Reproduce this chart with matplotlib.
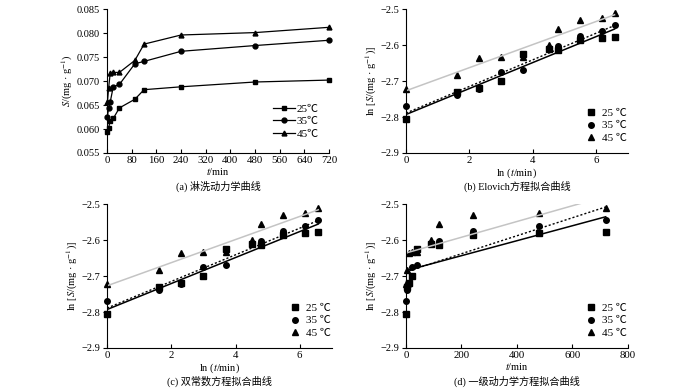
import numpy as np
import matplotlib.pyplot as plt

plt.rcParams['font.family'] = ['Liberation Serif', 'Noto Sans CJK SC']
plt.rcParams['mathtext.fontset'] = 'stix'
plt.rcParams['font.size'] = 7.5

# data
t = np.array([1, 5, 10, 20, 40, 90, 120, 240, 480, 720])
ln_t = np.log(t)
temps = ['25', '35', '45']
markers = ['s', 'o', '^']

# (a) S vs t
S25 = [0.0594, 0.0603, 0.0616, 0.0622, 0.0644, 0.0662, 0.0682, 0.0688, 0.0698, 0.0702]
S35 = [0.0626, 0.0644, 0.0656, 0.0688, 0.0693, 0.0736, 0.0741, 0.0762, 0.0774, 0.0785]
S45 = [0.0656, 0.0686, 0.0716, 0.0718, 0.0718, 0.0743, 0.0777, 0.0796, 0.0801, 0.0812]

# ln S used in (b)-(d)
lnS25 = [-2.805, -2.730, -2.720, -2.700, -2.625, -2.610, -2.613, -2.587, -2.580, -2.577]
lnS35 = [-2.770, -2.740, -2.722, -2.675, -2.670, -2.610, -2.603, -2.575, -2.560, -2.545]
lnS45 = [-2.723, -2.682, -2.635, -2.633, -2.633, -2.600, -2.556, -2.531, -2.525, -2.510]

# fitted lines (intercept, slope)
elovich_b = [-2.793, -2.789, -2.727]
elovich_k = [0.0361, 0.0370, 0.0321]
first_b = [-2.685, -2.688, -2.636]
first_k = [0.000208, 0.000250, 0.000219]
fit_styles = [dict(color='black', ls='-', lw=1.1),
              dict(color='black', ls=(0, (1.5, 1.5)), lw=1.0),
              dict(color='#c4c4c4', ls='-', lw=1.1)]

fig = plt.figure(figsize=(7, 3.9), dpi=100)
ax_a = fig.add_axes([0.153, 0.6077, 0.317, 0.369])
ax_b = fig.add_axes([0.580, 0.6077, 0.317, 0.369])
ax_c = fig.add_axes([0.153, 0.1077, 0.321, 0.369])
ax_d = fig.add_axes([0.580, 0.1077, 0.317, 0.369])


def style(ax):
    for s in ['top', 'right']:
        ax.spines[s].set_visible(False)
    ax.tick_params(axis='x', direction='in', length=3, pad=2, labelsize=7.8)
    ax.tick_params(axis='y', direction='out', length=3, pad=2, labelsize=7.5)


def caption(ax, s):
    ax.text(0.5, -0.23, s, transform=ax.transAxes, ha='center', va='center', fontsize=7.3)


# (a)
for S, m, lab in zip([S25, S35, S45], markers, temps):
    ax_a.plot(t, S, color='black', lw=0.9, marker=m, ms=3.5, clip_on=False,
              label=lab + '℃')
ax_a.set_xlim(0, 720)
ax_a.set_ylim(0.055, 0.085)
ax_a.set_xticks(np.arange(0, 721, 80))
ax_a.set_yticks(np.arange(0.055, 0.0851, 0.005))
ax_a.yaxis.set_major_formatter(plt.FormatStrFormatter('%.3f'))
ax_a.set_xlabel('$t$/min', labelpad=1)
ax_a.set_ylabel('$S$/(mg · g$^{-1}$)', labelpad=1)
ax_a.legend(loc='lower right', bbox_to_anchor=(1.0, 0.03), frameon=False,
            handlelength=1.9, handletextpad=0.2, labelspacing=0.25, fontsize=8)
style(ax_a)
caption(ax_a, '(a) 淋洗动力学曲线')

# (b), (c) ln S vs ln t ; (d) ln S vs t
panels = [(ax_b, ln_t, elovich_b, elovich_k, '(b) Elovich方程拟合曲线', 'ln ($t$/min)'),
          (ax_c, ln_t, elovich_b, elovich_k, '(c) 双常数方程拟合曲线', 'ln ($t$/min)'),
          (ax_d, t, first_b, first_k, '(d) 一级动力学方程拟合曲线', '$t$/min')]
for ax, x, bs, ks, cap, xl in panels:
    for y, m, lab in zip([lnS25, lnS35, lnS45], markers, temps):
        ax.plot(x, y, ls='none', marker=m, ms=4, color='black', clip_on=False,
                label=lab + ' ℃')
    xx = np.array([x[0] * 0, x[-1]])
    for b, k, st in zip(bs, ks, fit_styles):
        ax.plot(xx, b + k * xx, **st)
    ax.set_ylim(-2.9, -2.5)
    ax.set_yticks([-2.9, -2.8, -2.7, -2.6, -2.5])
    ax.yaxis.set_major_formatter(plt.FuncFormatter(lambda v, p: ('%.1f' % v).replace('-', '−')))
    ax.set_ylabel('ln [$S$/(mg · g$^{-1}$)]', labelpad=1)
    ax.set_xlabel(xl, labelpad=1)
    ax.legend(loc='lower right', bbox_to_anchor=(1.04, 0.0), frameon=False,
              handlelength=1.0, handletextpad=0.5, labelspacing=0.25, fontsize=8)
    style(ax)
    caption(ax, cap)

ax_b.set_xlim(0, 7)
ax_c.set_xlim(0, 7)
ax_d.set_xlim(0, 800)
ax_d.set_xticks([0, 200, 400, 600, 800])

fig.savefig('out.png', dpi=100)
